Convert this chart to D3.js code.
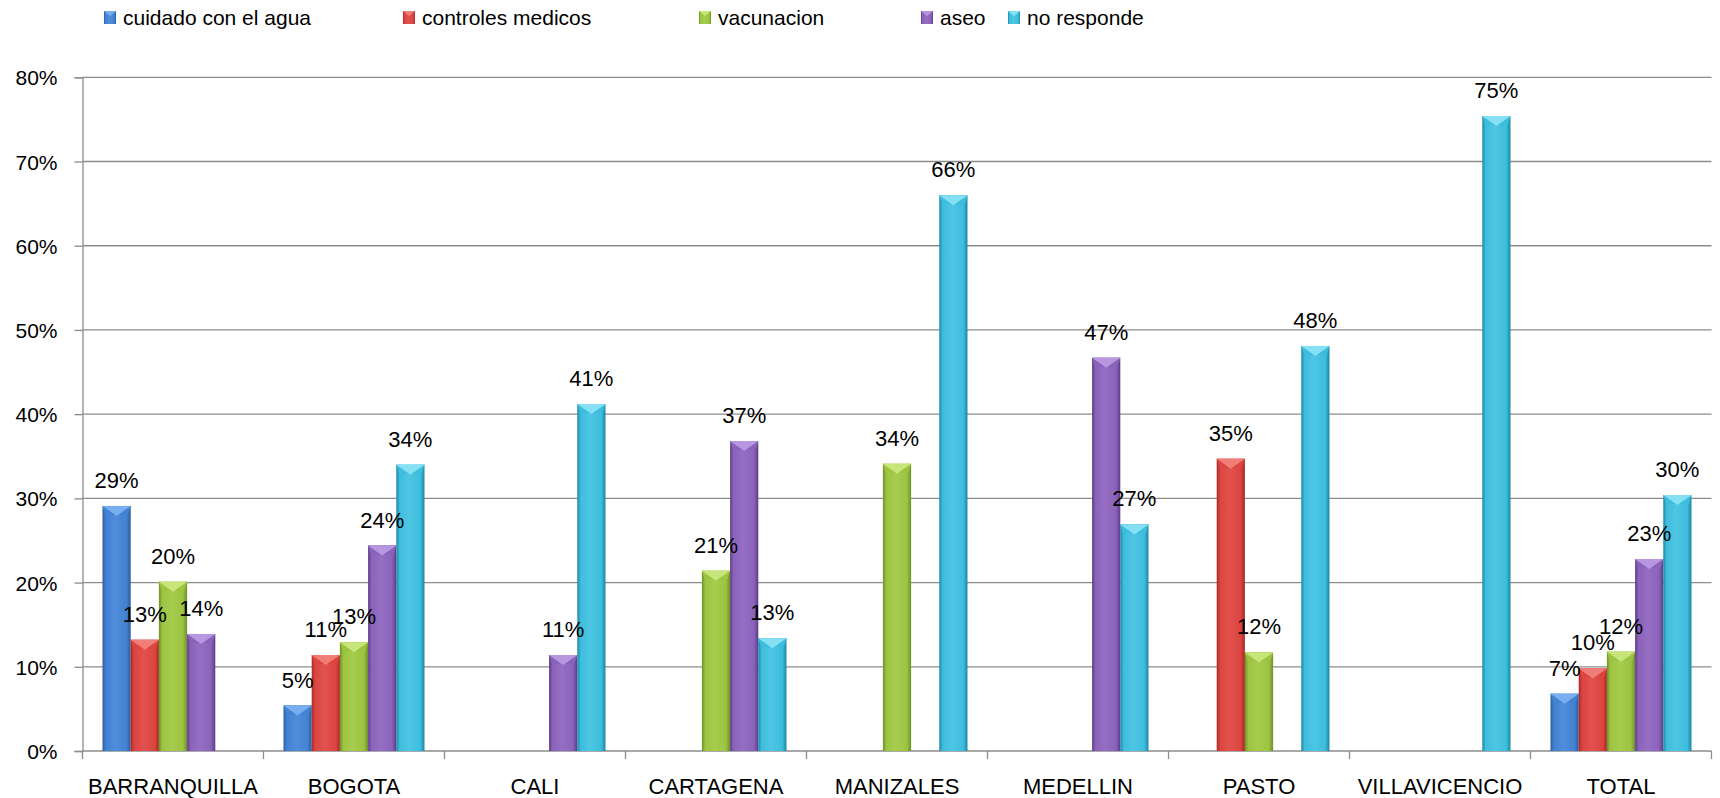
<!DOCTYPE html>
<html lang="es">
<head>
  <meta charset="UTF-8">
  <title>Respuestas por ciudad</title>
  <script src="https://d3js.org/d3.v7.min.js"></script>
  <style>
    body {
      margin: 0;
      background: #fff;
      font-family: "Liberation Sans", Arial, sans-serif;
    }
    svg { display: block; }
    .grid line { stroke: #8c8c8c; stroke-width: 1.3px; }
    .axis path, .axis line { stroke: #8c8c8c; stroke-width: 1.3px; }
    .axis text { font-family: "Liberation Sans", Arial, sans-serif; font-size: 21px; fill: #000; }
    .axis .cat { font-size: 22px; }
    .lbl { font-size: 22px; fill: #000; text-anchor: middle; }
    .legend text { font-size: 21px; fill: #000; }
  </style>
</head>
<body>
  <svg width="1720" height="798"></svg>

  <script>
    // categories and series
    const categories = ["BARRANQUILLA", "BOGOTA", "CALI", "CARTAGENA", "MANIZALES", "MEDELLIN", "PASTO", "VILLAVICENCIO", "TOTAL"];
    const seriesNames = ["cuidado con el agua", "controles medicos", "vacunacion", "aseo", "no responde"];

    // values in percent (null = no bar)
    const cuidadoAgua      = [29.1, 5.4, null, null, null, null, null, null, 6.8];
    const controlesMedicos = [13.2, 11.4, null, null, null, null, 34.7, null, 9.8];
    const vacunacion       = [20.1, 12.9, null, 21.4, 34.1, null, 11.7, null, 11.8];
    const aseo             = [13.9, 24.4, 11.4, 36.8, null, 46.7, null, null, 22.8];
    const noResponde       = [null, 34.0, 41.2, 13.4, 66.0, 26.9, 48.1, 75.4, 30.4];

    const yTicks = [0, 10, 20, 30, 40, 50, 60, 70, 80];

    const seriesValues = [cuidadoAgua, controlesMedicos, vacunacion, aseo, noResponde];

    // colours: [edge, mid, light top]
    const palette = [
      ["#2b5c9e", "#4282d2", "#78aef0"],
      ["#a52a27", "#dc4440", "#f07e78"],
      ["#6e8f27", "#9cc441", "#c8e57a"],
      ["#5a3c84", "#8a62ba", "#b697e0"],
      ["#1c86a4", "#3dbddd", "#86e0f4"]
    ];

    // legend x positions (layout)
    const legendX = [104, 403, 699, 921, 1008];

    const svg = d3.select("svg");
    const plotLeft = 82.5, plotRight = 1711.5, plotTop = 77.3, plotBottom = 751;

    const x0 = d3.scaleBand().domain(categories).range([plotLeft, plotRight]).padding(0);
    const x1 = d3.scaleBand().domain(seriesNames).range([0, x0.bandwidth()])
      .paddingInner(0).paddingOuter(0.71);
    const y = d3.scaleLinear().domain([0, 80]).range([plotBottom, plotTop]);

    // gradients
    const defs = svg.append("defs");
    palette.forEach((c, i) => {
      const g = defs.append("linearGradient").attr("id", "g" + i)
        .attr("x1", "0").attr("x2", "1").attr("y1", "0").attr("y2", "0");
      g.append("stop").attr("offset", "0").attr("stop-color", c[0]);
      g.append("stop").attr("offset", "0.12").attr("stop-color", c[1]);
      g.append("stop").attr("offset", "0.45").attr("stop-color", d3.interpolateRgb(c[1], c[2])(0.25));
      g.append("stop").attr("offset", "0.85").attr("stop-color", c[1]);
      g.append("stop").attr("offset", "1").attr("stop-color", c[0]);
    });

    // gridlines
    svg.append("g").attr("class", "grid")
      .selectAll("line")
      .data(yTicks.filter(t => t > 0))
      .join("line")
      .attr("x1", plotLeft).attr("x2", plotRight)
      .attr("y1", d => y(d)).attr("y2", d => y(d));

    // y axis
    svg.append("g").attr("class", "axis")
      .attr("transform", `translate(${plotLeft},0)`)
      .call(d3.axisLeft(y).tickValues(yTicks).tickFormat(d => d + "%").tickSize(8).tickPadding(17))
      .call(g => g.selectAll("text").attr("dy", "0.36em"));

    // x axis with ticks on category boundaries
    const xAxis = svg.append("g").attr("class", "axis")
      .attr("transform", `translate(0,${plotBottom})`);
    xAxis.append("line").attr("x1", plotLeft).attr("x2", plotRight).attr("y1", 0).attr("y2", 0);
    xAxis.selectAll("line.tk")
      .data(d3.range(categories.length + 1))
      .join("line").attr("class", "tk")
      .attr("x1", i => plotLeft + i * x0.step()).attr("x2", i => plotLeft + i * x0.step())
      .attr("y1", 0).attr("y2", 8);
    xAxis.selectAll("text")
      .data(categories)
      .join("text")
      .attr("class", "cat")
      .attr("x", d => x0(d) + x0.bandwidth() / 2)
      .attr("y", 43)
      .attr("text-anchor", "middle")
      .text(d => d);

    // bars
    const bars = [];
    seriesValues.forEach((vals, si) => {
      vals.forEach((v, ci) => {
        if (v != null) bars.push({ si, cat: categories[ci], v });
      });
    });

    const barG = svg.append("g").selectAll("g")
      .data(bars)
      .join("g")
      .attr("transform", d => `translate(${x0(d.cat) + x1(seriesNames[d.si])},${y(d.v)})`);

    const bw = x1.bandwidth();
    barG.append("rect")
      .attr("width", bw)
      .attr("height", d => y(0) - y(d.v))
      .attr("fill", d => `url(#g${d.si})`);

    // top bevel
    const bev = 9;
    barG.append("path")
      .attr("d", `M0,0 L${bw},0 L${bw - 3},${bev} L3,${bev} Z`)
      .attr("fill", d => palette[d.si][1]);
    barG.append("path")
      .attr("d", `M0,0 L${bw},0 L${bw / 2},${bev + 1} Z`)
      .attr("fill", d => palette[d.si][2]);

    // value labels
    svg.append("g").selectAll("text")
      .data(bars)
      .join("text")
      .attr("class", "lbl")
      .attr("x", d => x0(d.cat) + x1(seriesNames[d.si]) + bw / 2)
      .attr("y", d => y(d.v) - 18)
      .text(d => Math.round(d.v) + "%");

    // legend
    const legend = svg.append("g").attr("class", "legend")
      .selectAll("g")
      .data(seriesNames)
      .join("g")
      .attr("transform", (d, i) => `translate(${legendX[i]},11)`);
    legend.append("rect")
      .attr("width", 12).attr("height", 13)
      .attr("fill", (d, i) => `url(#g${i})`);
    legend.append("path")
      .attr("d", "M0,0 L12,0 L6,5 Z")
      .attr("fill", (d, i) => palette[i][2]);
    legend.append("text")
      .attr("x", 19).attr("y", 14)
      .text(d => d);
  </script>
</body>
</html>
